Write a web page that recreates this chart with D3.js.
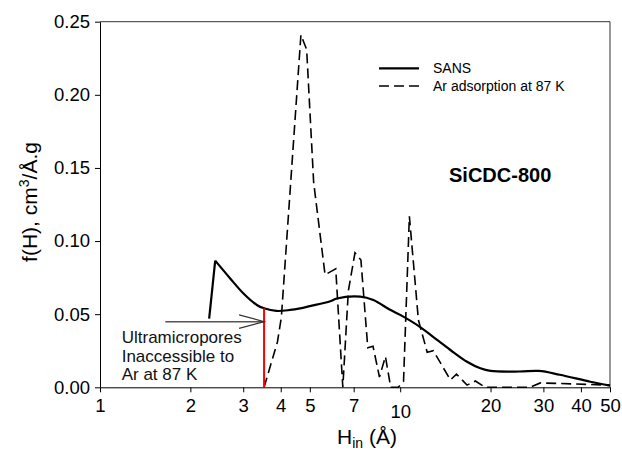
<!DOCTYPE html>
<html>
<head>
<meta charset="utf-8">
<script src="https://cdn.jsdelivr.net/npm/d3@7"></script>
<style>
  body { margin: 0; background: #fff; }
  svg { font-family: Arial, "Liberation Sans", sans-serif; }
</style>
</head>
<body>
<svg id="chart"></svg>
<script>
// SANS pore size distribution (H in Å, f(H))
const sansH = [2.31, 2.42, 2.71, 3.0, 3.33, 3.52, 3.87, 4.3, 4.64, 5.0, 5.85, 6.15, 7.36, 8.14, 9.25, 10.0, 11.66, 12.9, 14.7, 16.7, 18.5, 20, 25, 29, 34, 43, 50];
const sansF = [0.047, 0.0866, 0.0746, 0.0643, 0.0563, 0.054, 0.0522, 0.0529, 0.054, 0.0555, 0.0588, 0.0607, 0.062, 0.0597, 0.053, 0.0495, 0.0412, 0.0343, 0.0255, 0.0175, 0.013, 0.0112, 0.0108, 0.0112, 0.0086, 0.0038, 0.0012];

// Ar adsorption at 87 K
const arH = [3.52, 3.9, 4.02, 4.67, 4.88, 5.15, 5.62, 6.1, 6.44, 6.72, 7.07, 7.4, 7.8, 8.12, 8.53, 8.93, 9.3, 9.85, 10.26, 10.73, 11.5, 12.3, 12.9, 14.7, 15.4, 16.7, 17.8, 19.2, 27, 29.3, 50];
const arF = [0, 0.031, 0.048, 0.241, 0.231, 0.14, 0.077, 0.081, 0, 0.066, 0.092, 0.087, 0.027, 0.028, 0.007, 0.021, 0, 0, 0.004, 0.117, 0.046, 0.024, 0.025, 0.005, 0.009, 0.0015, 0.0043, 0, 0, 0.003, 0.0015];

const xTicks = [1, 2, 3, 4, 5, 7, 10, 20, 30, 40, 50];
const yTicks = [0, 0.05, 0.10, 0.15, 0.20, 0.25];
const cutoffH = 3.52;      // red line
const arrowStartH = 1.65;
const arrowF = 0.0449;

const width = 622, height = 452;
const margin = { top: 21.7, right: 12, bottom: 64.7, left: 100 };

const svg = d3.select('#chart').attr('width', width).attr('height', height);

const x = d3.scaleLog().domain([1, 50]).range([margin.left, width - margin.right]);
const y = d3.scaleLinear().domain([0, 0.25]).range([height - margin.bottom, margin.top]);

const sans = sansH.map((h, i) => [h, sansF[i]]);
const ar = arH.map((h, i) => [h, arF[i]]);

// frame (top and right)
svg.append('path')
  .attr('d', `M${x(1)},${y(0.25)}H${x(50)}V${y(0)}`)
  .attr('fill', 'none').attr('stroke', '#333').attr('stroke-width', 1);

// axes
const xAxis = svg.append('g')
  .attr('transform', `translate(0,${y(0)})`)
  .call(d3.axisBottom(x).tickValues(xTicks).tickFormat(d3.format('d')).tickSize(5).tickSizeOuter(0));
xAxis.select('.domain').attr('stroke', '#000');
xAxis.selectAll('text')
  .attr('font-size', 18.5).attr('fill', '#000')
  .attr('dy', d => d === 10 ? '1.25em' : '0.9em');

const yAxis = svg.append('g')
  .attr('transform', `translate(${x(1)},0)`)
  .call(d3.axisLeft(y).tickValues(yTicks).tickFormat(d3.format('.2f')).tickSize(5).tickSizeOuter(0));
yAxis.select('.domain').attr('stroke', '#000');
yAxis.selectAll('text').attr('font-size', 18.5).attr('fill', '#000').attr('x', -10);

// axis titles
const xt = svg.append('text').attr('x', 337).attr('y', 444).attr('font-size', 21);
xt.append('tspan').text('H');
xt.append('tspan').attr('font-size', 14).attr('dy', 4).text('in');
xt.append('tspan').attr('dy', -4).text(' (Å)');

const yt = svg.append('text')
  .attr('transform', 'translate(37,202) rotate(-90)')
  .attr('text-anchor', 'middle').attr('font-size', 21);
yt.append('tspan').text('f(H), cm');
yt.append('tspan').attr('font-size', 14).attr('dy', -8).text('3');
yt.append('tspan').attr('dy', 8).text('/Å.g');

// data lines
const line = d3.line().x(d => x(d[0])).y(d => y(d[1]));

svg.append('path').datum(sans.slice(0, 2))
  .attr('d', line).attr('fill', 'none').attr('stroke', '#000').attr('stroke-width', 2.2);
svg.append('path').datum(sans.slice(1))
  .attr('d', d3.line().x(d => x(d[0])).y(d => y(d[1])).curve(d3.curveCatmullRom.alpha(0.5)))
  .attr('fill', 'none').attr('stroke', '#000').attr('stroke-width', 2.2);

svg.append('path').datum(ar)
  .attr('d', line)
  .attr('fill', 'none').attr('stroke', '#000').attr('stroke-width', 1.6)
  .attr('stroke-dasharray', '10,5');

// red cutoff line
svg.append('line')
  .attr('x1', x(cutoffH)).attr('x2', x(cutoffH))
  .attr('y1', y(0)).attr('y2', y(sansF[sansH.indexOf(cutoffH)]))
  .attr('stroke', '#ff0000').attr('stroke-width', 2);

// annotation arrow
const tipX = x(cutoffH), tipY = y(arrowF);
svg.append('line')
  .attr('x1', x(arrowStartH)).attr('x2', tipX).attr('y1', tipY).attr('y2', tipY)
  .attr('stroke', '#555').attr('stroke-width', 1.5);
svg.append('path')
  .attr('d', `M${tipX - 25},${tipY - 6.7}L${tipX},${tipY}L${tipX - 25},${tipY + 6.7}`)
  .attr('fill', 'none').attr('stroke', '#333').attr('stroke-width', 1.2);

const note = svg.append('text').attr('font-size', 17).attr('fill', '#111');
['Ultramicropores', 'Inaccessible to', 'Ar at 87 K'].forEach((t, i) => {
  note.append('tspan').attr('x', 121.7).attr('y', 343 + i * 18.5).text(t);
});

// legend
const legend = svg.append('g');
legend.append('line').attr('x1', 379).attr('x2', 419).attr('y1', 68.3).attr('y2', 68.3)
  .attr('stroke', '#000').attr('stroke-width', 2.2);
legend.append('line').attr('x1', 379).attr('x2', 419).attr('y1', 86).attr('y2', 86)
  .attr('stroke', '#000').attr('stroke-width', 1.6).attr('stroke-dasharray', '10,5');
legend.append('text').attr('x', 433).attr('y', 73).attr('font-size', 14).text('SANS');
legend.append('text').attr('x', 433).attr('y', 91).attr('font-size', 14).text('Ar adsorption at 87 K');

svg.append('text').attr('x', 449).attr('y', 182).attr('font-size', 20).attr('font-weight', 'bold').text('SiCDC-800');
</script>
</body>
</html>
